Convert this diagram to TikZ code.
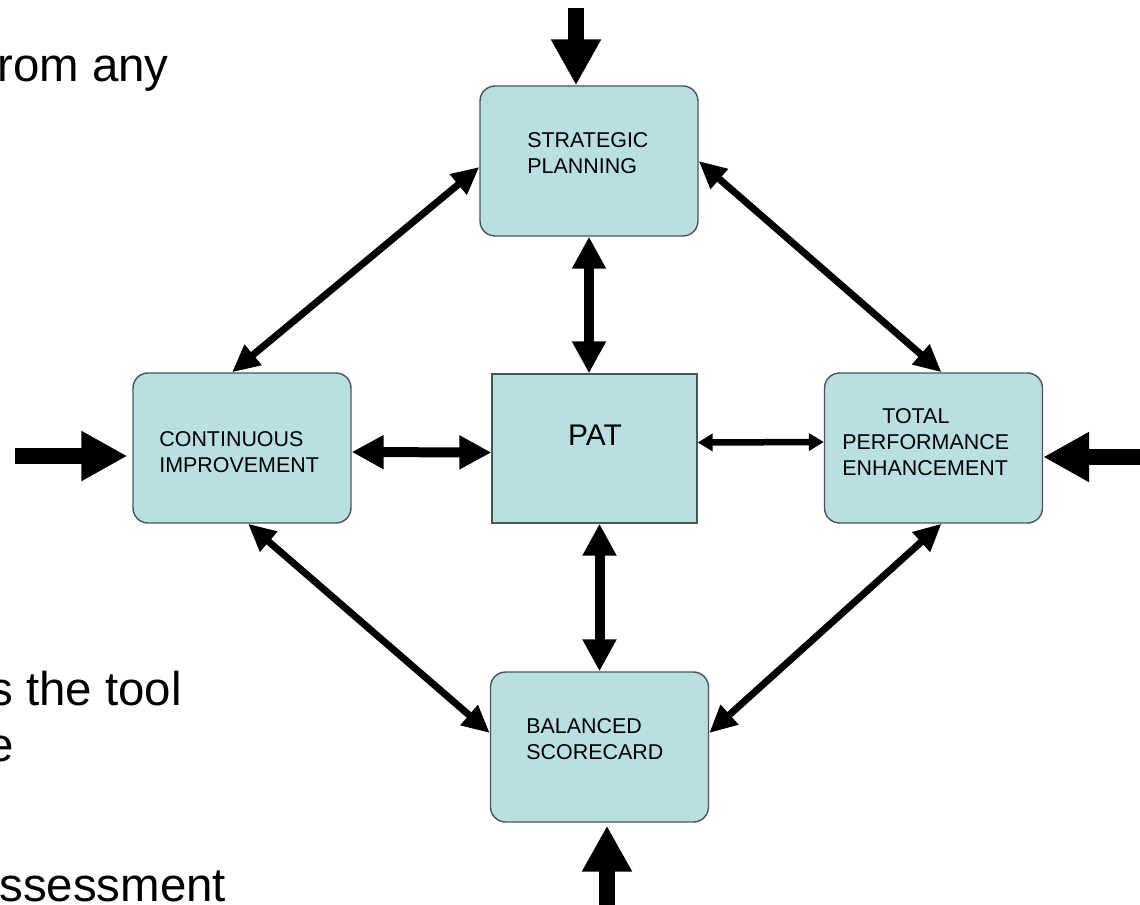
\documentclass[tikz,border=0pt]{standalone}
\usepackage{fontspec}
\setmainfont{Liberation Sans}
\usetikzlibrary{arrows.meta}
\definecolor{boxfill}{RGB}{185,223,227}
\definecolor{boxline}{RGB}{75,85,85}
\tikzset{
  block/.style={draw=boxline, line width=0.8pt, fill=boxfill, rounded corners=0.3cm,
    minimum width=4.36cm, minimum height=3cm, inner sep=0pt},
  patbox/.style={block, rounded corners=0pt, minimum width=4.1cm, minimum height=2.98cm},
  boxtext/.style={anchor=north west, align=left, inner sep=0pt, font=\fontsize{12.2}{14.8}\selectfont},
  cuttext/.style={anchor=base west, inner sep=0pt, font=\fontsize{27}{32}\selectfont},
  bigin/.style={line width=0.31cm, -{Triangle[length=0.92cm,width=0.94cm]}},
  thick link/.style={line width=0.2cm,
    {Triangle[length=0.64cm,width=0.64cm]}-{Triangle[length=0.64cm,width=0.64cm]}},
  diag link/.style={line width=0.14cm,
    {Triangle[length=0.55cm,width=0.5cm]}-{Triangle[length=0.55cm,width=0.5cm]}},
  thin link/.style={line width=0.13cm,
    {Triangle[length=0.3cm,width=0.34cm]}-{Triangle[length=0.3cm,width=0.34cm]}}
}
\begin{document}
\begin{tikzpicture}[x=0.02cm,y=-0.02cm]
  \useasboundingbox (0,0) rectangle (1140,904);

  \node[cuttext] (txt-a) at (-3,81) {rom any};
  \node[cuttext] (txt-b) at (-11,705) {s the tool};
  \node[cuttext] (txt-c) at (-13,761) {e};
  \node[cuttext] (txt-d) at (-1,901) {ssessment};

  \node[block] (sp) at (589,161) {};
  \node[patbox] (pat) at (594.5,448.5) {};
  \node[block] (ci) at (242,448) {};
  \node[block] (tpe) at (933.5,448) {};
  \node[block] (bs) at (599.5,747) {};

  \node[boxtext] (sp-text) at (527,132) {STRATEGIC\\PLANNING};
  \node[boxtext] (ci-text) at (159,431) {CONTINUOUS\\IMPROVEMENT};
  \node[boxtext] (tpe-text) at (842,408) {\hspace{0.8cm}TOTAL\\PERFORMANCE\\ENHANCEMENT};
  \node[boxtext] (bs-text) at (526,718) {BALANCED\\SCORECARD};
  \node[anchor=north, inner sep=0pt, font=\fontsize{17}{20}\selectfont] (pat-text) at (595,425) {PAT};

  \coordinate (in-n) at (576,8);
  \coordinate (in-s) at (607,914);
  \coordinate (in-w) at (15,456);
  \coordinate (in-e) at (1150,457);
  \draw[bigin] (in-n) -- (in-n |- sp.north);
  \draw[bigin, shorten >=0.06cm] (in-s) -- (in-s |- bs.south);
  \draw[bigin, shorten >=0.1cm] (in-w) -- (in-w -| ci.west);
  \draw[bigin] (in-e) -- (in-e -| tpe.east);

  \draw[thick link] (sp.south) -- (sp.south |- pat.north);
  \draw[thick link] (bs.north |- pat.south) -- (bs.north);
  \draw[thick link] ([yshift=-0.08cm]ci.east) -- ([yshift=-0.08cm]pat.west);
  \draw[thin link] ([yshift=0.12cm]pat.east) -- ([yshift=0.12cm]tpe.west);

  \draw[diag link] ([yshift=-0.12cm]sp.west) -- ([xshift=-0.2cm]ci.north);
  \draw[diag link] (sp.east) -- ([xshift=0.16cm]tpe.north);
  \draw[diag link] ([xshift=0.12cm]ci.south) -- ([yshift=0.28cm]bs.west);
  \draw[diag link] ([xshift=0.16cm]tpe.south) -- ([yshift=0.28cm]bs.east);
\end{tikzpicture}
\end{document}
